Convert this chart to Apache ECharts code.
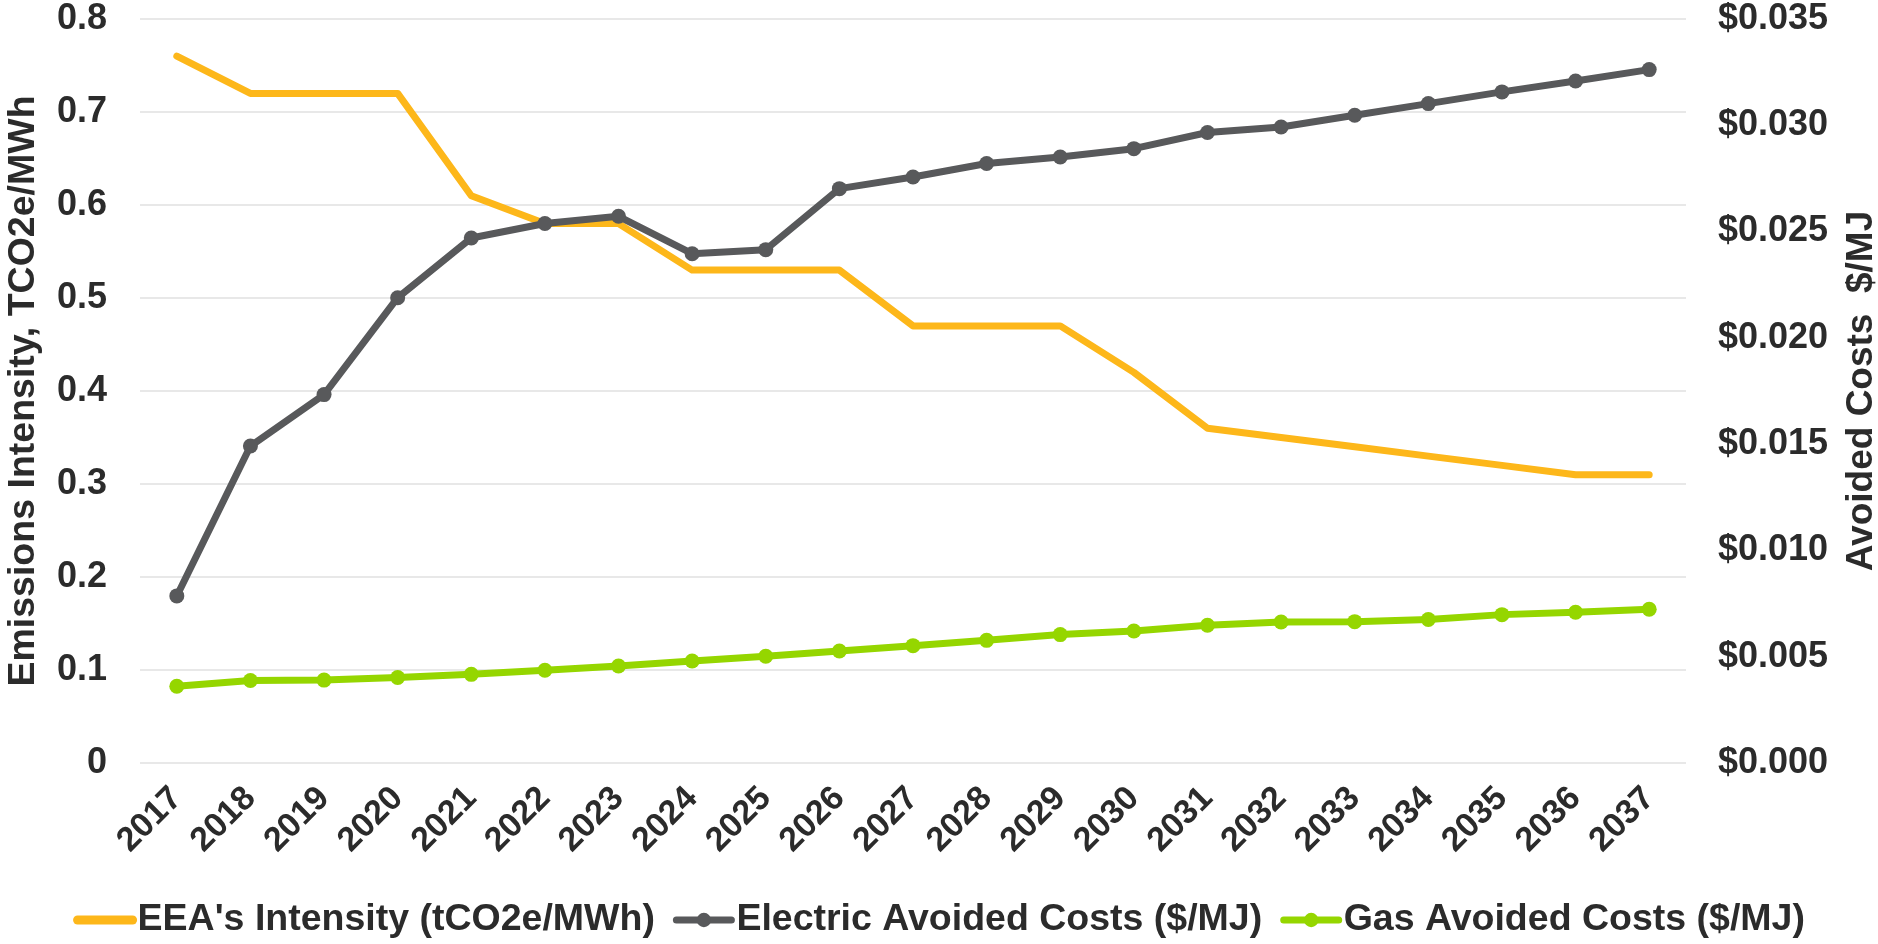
<!DOCTYPE html>
<html>
<head>
<meta charset="utf-8">
<script src="https://cdn.jsdelivr.net/npm/echarts@6/dist/echarts.min.js"></script>
<style>
  html, body { margin: 0; padding: 0; background: #ffffff; }
  #chart { width: 1878px; height: 944px; }
</style>
</head>
<body>
<div id="chart"></div>
<script>
// Years on the category axis
const years = ['2017','2018','2019','2020','2021','2022','2023','2024','2025','2026','2027',
               '2028','2029','2030','2031','2032','2033','2034','2035','2036','2037'];

// EEA grid emissions intensity, tCO2e/MWh (left axis)
const intensity = [0.76, 0.72, 0.72, 0.72, 0.61, 0.58, 0.58, 0.53, 0.53, 0.53, 0.47,
                   0.47, 0.47, 0.42, 0.36, 0.35, 0.34, 0.33, 0.32, 0.31, 0.31];

// Electric avoided costs, $/MJ (right axis)
const electricCost = [0.00786, 0.01491, 0.01733, 0.02189, 0.02470, 0.02538, 0.02572,
                      0.02396, 0.02415, 0.02702, 0.02757, 0.02820, 0.02851, 0.02890,
                      0.02966, 0.02992, 0.03047, 0.03102, 0.03157, 0.03208, 0.03262];

// Gas avoided costs, $/MJ (right axis)
const gasCost = [0.00361, 0.00388, 0.00390, 0.00402, 0.00417, 0.00436, 0.00456,
                 0.00480, 0.00502, 0.00527, 0.00552, 0.00577, 0.00604, 0.00621,
                 0.00648, 0.00663, 0.00665, 0.00675, 0.00698, 0.00709, 0.00723];

// Axis ranges
const leftAxis = { min: 0, max: 0.8, step: 0.1 };
const rightAxis = { min: 0, max: 0.035, step: 0.005 };

const seriesNames = ["EEA's Intensity (tCO2e/MWh)", 'Electric Avoided Costs ($/MJ)', 'Gas Avoided Costs ($/MJ)'];
const axisTitles = ['Emissions Intensity, TCO2e/MWh', 'Avoided Costs  $/MJ'];

const FONT = "'Liberation Sans', Arial, Helvetica, sans-serif";
const TEXT = '#2b2b2b';
const COLORS = ['#FDB71A', '#58595B', '#95D600'];

const chart = echarts.init(document.getElementById('chart'), null, { renderer: 'canvas' });

function lineSeries(idx, data, axis, withMarkers) {
  return {
    name: seriesNames[idx],
    type: 'line',
    yAxisIndex: axis,
    data: data,
    symbol: withMarkers ? 'circle' : 'none',
    symbolSize: 15,
    lineStyle: { color: COLORS[idx], width: 7, cap: 'round', join: 'round' },
    itemStyle: { color: COLORS[idx] },
    z: withMarkers ? 3 : 2
  };
}

chart.setOption({
  animation: false,
  backgroundColor: '#ffffff',
  textStyle: { fontFamily: FONT },
  grid: { left: 140, right: 192, top: 19, bottom: 181, containLabel: false, outerBoundsMode: 'none' },
  legend: {
    bottom: 0,
    left: 'center',
    itemWidth: 55,
    itemHeight: 18,
    itemGap: 18,
    textStyle: { fontFamily: FONT, fontWeight: 'bold', fontSize: 37.5, color: TEXT },
    data: [
      { name: seriesNames[0], itemStyle: { opacity: 0 }, lineStyle: { width: 9, cap: 'round' } },
      { name: seriesNames[1], lineStyle: { width: 7 } },
      { name: seriesNames[2], lineStyle: { width: 7 } }
    ]
  },
  xAxis: {
    type: 'category',
    data: years,
    boundaryGap: true,
    axisLine: { show: false },
    axisTick: { show: false },
    axisLabel: {
      rotate: 45,
      margin: 30,
      interval: 0,
      fontFamily: FONT, fontWeight: 'bold', fontSize: 34, color: TEXT
    },
    splitLine: { show: false }
  },
  yAxis: [
    {
      type: 'value',
      min: leftAxis.min, max: leftAxis.max, interval: leftAxis.step,
      position: 'left',
      name: axisTitles[0],
      nameLocation: 'middle',
      nameRotate: 90,
      nameGap: 97,
      nameTextStyle: { fontFamily: FONT, fontWeight: 'bold', fontSize: 37.5, color: TEXT },
      axisLine: { show: false },
      axisTick: { show: false },
      axisLabel: {
        margin: 33,
        fontFamily: FONT, fontWeight: 'bold', fontSize: 36, color: TEXT,
        formatter: v => (Math.round(v * 10) / 10).toString()
      },
      splitLine: { lineStyle: { color: '#e0e0e0', width: 1.5 } }
    },
    {
      type: 'value',
      min: rightAxis.min, max: rightAxis.max, interval: rightAxis.step,
      position: 'right',
      name: axisTitles[1],
      nameLocation: 'middle',
      nameRotate: 90,
      nameGap: 157,
      nameTextStyle: { fontFamily: FONT, fontWeight: 'bold', fontSize: 37, color: TEXT },
      axisLine: { show: false },
      axisTick: { show: false },
      axisLabel: {
        margin: 32,
        fontFamily: FONT, fontWeight: 'bold', fontSize: 36, color: TEXT,
        formatter: v => '$' + v.toFixed(3)
      },
      splitLine: { show: false }
    }
  ],
  series: [
    lineSeries(0, intensity, 0, false),
    lineSeries(1, electricCost, 1, true),
    lineSeries(2, gasCost, 1, true)
  ]
});
</script>
</body>
</html>
